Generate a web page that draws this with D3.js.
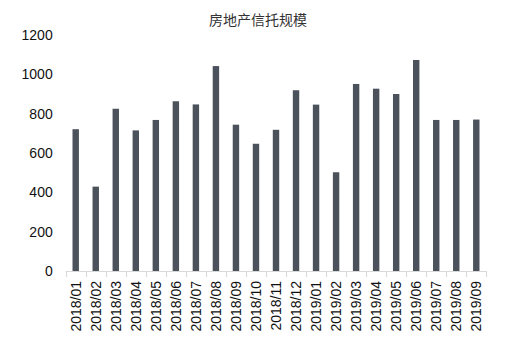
<!DOCTYPE html>
<html>
<head>
<meta charset="utf-8">
<script src="https://cdn.jsdelivr.net/npm/d3@7"></script>
<style>
  html, body { margin: 0; padding: 0; background: #fff; }
  svg { display: block; }
</style>
</head>
<body>
<svg id="chart" width="511" height="341"></svg>
<script>
// Monthly real-estate trust issuance
const months = ["2018/01","2018/02","2018/03","2018/04","2018/05","2018/06","2018/07",
  "2018/08","2018/09","2018/10","2018/11","2018/12","2019/01","2019/02","2019/03",
  "2019/04","2019/05","2019/06","2019/07","2019/08","2019/09"];
const volumes = [721, 429, 825, 715, 768, 863, 847, 1042, 744, 647, 718, 919, 846,
  502, 951, 927, 900, 1073, 768, 768, 770];
const yTicks = [0, 200, 400, 600, 800, 1000, 1200];
const title = "房地产信托规模";

const svg = d3.select("#chart");
const plotLeft = 65.7, plotRight = 486.3, plotTop = 35, plotBottom = 271;

const x = d3.scaleBand().domain(months).range([plotLeft, plotRight]).paddingInner(0.68).paddingOuter(0.34);
const y = d3.scaleLinear().domain([0, 1200]).range([plotBottom, plotTop]);

svg.append("text")
  .attr("x", 258).attr("y", 25)
  .attr("text-anchor", "middle")
  .attr("font-family", "'Noto Sans CJK SC', sans-serif")
  .attr("font-size", 14)
  .attr("fill", "#333")
  .text(title);

// y axis labels only (no line)
const yAxis = svg.append("g")
  .attr("transform", `translate(${plotLeft},0)`)
  .call(d3.axisLeft(y).tickValues(yTicks).tickSize(0).tickPadding(13).tickFormat(d3.format("d")));
yAxis.select(".domain").remove();
yAxis.selectAll("text")
  .attr("font-family", "'Liberation Sans', Arial, sans-serif")
  .attr("font-size", 14)
  .attr("fill", "#111");

// bars
svg.append("g").selectAll("rect")
  .data(months.map((m, i) => ({ m, v: volumes[i] })))
  .join("rect")
  .attr("x", d => x(d.m))
  .attr("width", x.bandwidth())
  .attr("y", d => y(d.v))
  .attr("height", d => y(0) - y(d.v))
  .attr("fill", "#4b525c");

// x axis with ticks at band boundaries
const xAxis = svg.append("g").attr("transform", `translate(0,${plotBottom})`);
xAxis.append("line")
  .attr("x1", plotLeft).attr("x2", plotRight)
  .attr("y1", 0.5).attr("y2", 0.5)
  .attr("stroke", "#d9d9d9");
const step = x.step();
const bounds = d3.range(months.length + 1).map(i => plotLeft + i * step);
xAxis.selectAll("line.tick")
  .data(bounds)
  .join("line")
  .attr("class", "tick")
  .attr("x1", d => Math.round(d) + 0.5).attr("x2", d => Math.round(d) + 0.5)
  .attr("y1", 0).attr("y2", 6)
  .attr("stroke", "#d9d9d9");
xAxis.selectAll("text")
  .data(months)
  .join("text")
  .attr("transform", d => `translate(${x(d) + x.bandwidth() / 2 + 5},10) rotate(-90)`)
  .attr("text-anchor", "end")
  .attr("font-family", "'Liberation Sans', Arial, sans-serif")
  .attr("font-size", 14)
  .attr("fill", "#111")
  .text(d => d);
</script>
</body>
</html>
